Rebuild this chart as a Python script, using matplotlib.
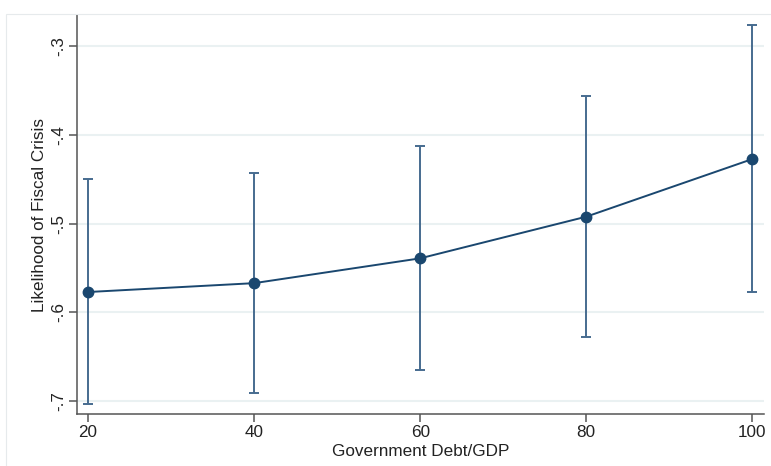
import numpy as np
import matplotlib
matplotlib.use("Agg")
import matplotlib.pyplot as plt
from matplotlib.patches import Rectangle

plt.rcParams['font.family'] = ['Liberation Sans', 'DejaVu Sans']

# debt levels and predicted likelihood with 95% CI
debt = [20, 40, 60, 80, 100]
margin = [-0.577, -0.567, -0.539, -0.492, -0.427]
ci_low = [-0.703, -0.691, -0.665, -0.628, -0.577]
ci_high = [-0.450, -0.443, -0.412, -0.356, -0.276]

yticks = [-0.7, -0.6, -0.5, -0.4, -0.3]
ytick_labels = ['-.7', '-.6', '-.5', '-.4', '-.3']
xticks = [20, 40, 60, 80, 100]

navy = '#1a476f'
cap_col = '#466b8f'

fig = plt.figure(figsize=(7.71, 4.66), dpi=100)
ax = fig.add_axes([77/771, 1 - 414/466, (764 - 77)/771, (414 - 15)/466])

# faint outer frame of graph region
fig.add_artist(Rectangle((6/771, -0.1), 1.2, 1 - 14/466 + 0.1, transform=fig.transFigure,
                         fill=False, edgecolor='#e6eaec', linewidth=0.8))

m = np.array(margin)
err = [m - np.array(ci_low), np.array(ci_high) - m]
ax.errorbar(debt, margin, yerr=err, fmt='none', ecolor=cap_col, elinewidth=1.4,
            capsize=3.4, capthick=1.4, zorder=2)
ax.plot(debt, margin, color=navy, linewidth=1.4, marker='o', markersize=7.5,
        markerfacecolor=navy, markeredgecolor=navy, zorder=3)

ax.set_xlim(18.67, 101.4)
ax.set_ylim(-0.7146, -0.2645)
ax.set_xticks(xticks)
ax.set_yticks(yticks)
ax.set_yticklabels(ytick_labels, rotation=90, va='center')
ax.grid(axis='y', color='#eaf1f2', linewidth=1.5)
ax.set_axisbelow(True)

for s in ['top', 'right']:
    ax.spines[s].set_visible(False)
for s in ['left', 'bottom']:
    ax.spines[s].set_color('#555555')
    ax.spines[s].set_linewidth(1.1)
ax.tick_params(axis='both', colors='#555555', labelcolor='#222222', labelsize=12.3,
               length=6, width=1.1)
ax.tick_params(axis='x', pad=2)
ax.tick_params(axis='y', pad=2)

ax.set_xlabel('Government Debt/GDP', fontsize=12.3, color='#222222', labelpad=3)
ax.set_ylabel('Likelihood of Fiscal Crisis', fontsize=12.3, color='#222222', labelpad=3)

fig.savefig('out.png', dpi=100)
